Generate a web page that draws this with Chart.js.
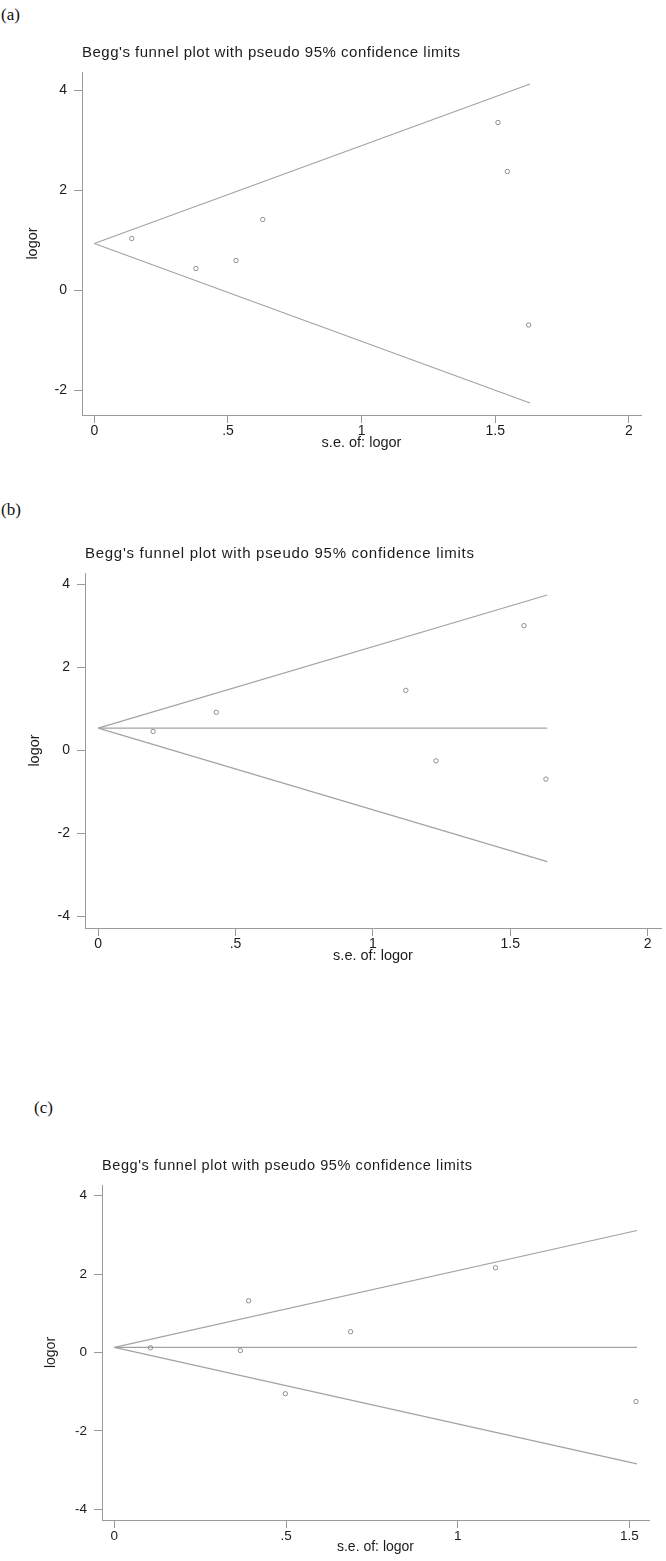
<!DOCTYPE html>
<html>
<head>
<meta charset="utf-8">
<script src="https://cdn.jsdelivr.net/npm/chart.js@4.4.0/dist/chart.umd.min.js"></script>
<style>
  body { margin: 0; background: #fff; width: 666px; height: 1561px; position: relative; overflow: hidden; }
  .tag { position: absolute; font-family: "Liberation Serif", "Times New Roman", serif; font-size: 17px; color: #111; line-height: 20px; }
  canvas { position: absolute; left: 0; }
</style>
</head>
<body>
<div class="tag" style="left:1px;top:5px">(a)</div>
<div class="tag" style="left:1px;top:500px">(b)</div>
<div class="tag" style="left:34px;top:1098px">(c)</div>
<canvas id="chartA" style="top:36px"></canvas>
<canvas id="chartB" style="top:535px"></canvas>
<canvas id="chartC" style="top:1150px"></canvas>
<script>
// panel (a)
var seA = [0.14, 0.38, 0.53, 0.63, 1.51, 1.545, 1.625];
var logorA = [1.03, 0.43, 0.59, 1.41, 3.35, 2.37, -0.70];
var limitSeA = [0, 1.63];
var upperA = [0.93, 4.12];
var lowerA = [0.93, -2.26];
var xTicksA = [0, 0.5, 1, 1.5, 2];
var yTicksA = [-2, 0, 2, 4];

// panel (b)
var seB = [0.20, 0.43, 1.12, 1.23, 1.55, 1.63];
var logorB = [0.46, 0.92, 1.45, -0.25, 3.01, -0.69];
var limitSeB = [0, 1.635];
var upperB = [0.54, 3.75];
var lowerB = [0.54, -2.68];
var midB = [0.54, 0.54];
var xTicksB = [0, 0.5, 1, 1.5, 2];
var yTicksB = [-4, -2, 0, 2, 4];

// panel (c)
var seC = [0.105, 0.367, 0.391, 0.498, 0.688, 1.110, 1.519];
var logorC = [0.12, 0.05, 1.32, -1.05, 0.53, 2.16, -1.25];
var limitSeC = [0, 1.522];
var upperC = [0.13, 3.11];
var lowerC = [0.13, -2.84];
var midC = [0.13, 0.13];
var xTicksC = [0, 0.5, 1, 1.5];
var yTicksC = [-4, -2, 0, 2, 4];

var TITLE = "Begg's funnel plot with pseudo 95% confidence limits";
var FONT = '"Liberation Sans", Arial, sans-serif';
var AXIS = '#9a9a9a';
var INK = '#1c1c1c';

function fmt(v) {
  // stata style: .5 instead of 0.5
  return String(v).replace(/^(-?)0\./, '$1.');
}

function limitLine(xs, ys) {
  return {
    data: xs.map(function(x, i) { return {x: x, y: ys[i]}; }),
    showLine: true,
    borderColor: '#a3a3a3',
    borderWidth: 1.2,
    pointRadius: 0
  };
}

var titlePlugin = {
  id: 'funnelTitle',
  afterDraw: function(chart, args, opts) {
    var ctx = chart.ctx, area = chart.chartArea;
    ctx.save();
    ctx.font = opts.size + 'px ' + FONT;
    ctx.fillStyle = INK;
    ctx.textBaseline = 'middle';
    var w = ctx.measureText(TITLE).width;
    ctx.letterSpacing = ((opts.width - w) / (TITLE.length - 1)) + 'px';
    ctx.fillText(TITLE, area.left, area.top - opts.gap);
    ctx.restore();
  }
};

function funnel(id, p) {
  var canvas = document.getElementById(id);
  canvas.width = 666;
  canvas.height = p.h;

  var datasets = [{
    data: p.se.map(function(x, i) { return {x: x, y: p.logor[i]}; }),
    pointRadius: 2.2,
    pointBorderWidth: 1,
    pointBorderColor: '#8e8e8e',
    pointBackgroundColor: 'rgba(0,0,0,0)'
  }, limitLine(p.limitSe, p.upper), limitLine(p.limitSe, p.lower)];
  if (p.mid) {
    datasets.push(limitLine(p.limitSe, p.mid));
  }

  var gridOpts = {drawOnChartArea: false, drawTicks: true, tickLength: 8, color: AXIS, lineWidth: 1};

  return new Chart(canvas, {
    type: 'scatter',
    data: {datasets: datasets},
    options: {
      responsive: false,
      animation: false,
      layout: {padding: {top: p.top, right: 666 - p.right, left: 0, bottom: 0}},
      plugins: {
        legend: {display: false},
        tooltip: {enabled: false},
        funnelTitle: {size: p.titleSize, width: p.titleWidth, gap: 19}
      },
      scales: {
        x: {
          type: 'linear',
          min: p.xMin,
          max: p.xMax,
          afterBuildTicks: function(s) { s.ticks = p.xTicks.map(function(v) { return {value: v}; }); },
          afterFit: function(s) { s.height = p.h - p.bottom; },
          grid: gridOpts,
          border: {display: true, color: AXIS, width: 1},
          ticks: {color: INK, font: {family: FONT, size: p.tickSize}, padding: 0, maxRotation: 0, autoSkip: false,
                  callback: function(v) { return fmt(v); }},
          title: {display: true, text: 's.e. of: logor', color: INK, font: {family: FONT, size: p.tickSize + 0.5},
                  padding: {top: 0, bottom: 0}}
        },
        y: {
          type: 'linear',
          min: p.yMin,
          max: p.yMax,
          afterBuildTicks: function(s) { s.ticks = p.yTicks.map(function(v) { return {value: v}; }); },
          afterFit: function(s) { s.width = p.left; },
          grid: gridOpts,
          border: {display: true, color: AXIS, width: 1},
          ticks: {color: INK, font: {family: FONT, size: p.tickSize}, padding: 7, autoSkip: false,
                  callback: function(v) { return fmt(v); }},
          title: {display: true, text: 'logor', color: INK, font: {family: FONT, size: p.tickSize + 0.5},
                  padding: {top: p.yTitlePad, bottom: 0}}
        }
      }
    },
    plugins: [titlePlugin]
  });
}

funnel('chartA', {
  se: seA, logor: logorA, limitSe: limitSeA, upper: upperA, lower: lowerA,
  xTicks: xTicksA, yTicks: yTicksA,
  h: 416, top: 36, bottom: 379, left: 82, right: 641,
  xMin: -0.046, xMax: 2.045, yMin: -2.5, yMax: 4.36,
  titleSize: 15, titleWidth: 378, tickSize: 14, yTitlePad: 24
});

funnel('chartB', {
  se: seB, logor: logorB, limitSe: limitSeB, upper: upperB, lower: lowerB, mid: midB,
  xTicks: xTicksB, yTicks: yTicksB,
  h: 430, top: 38, bottom: 393, left: 85, right: 662,
  xMin: -0.048, xMax: 2.049, yMin: -4.28, yMax: 4.28,
  titleSize: 15, titleWidth: 389, tickSize: 14, yTitlePad: 26
});

funnel('chartC', {
  se: seC, logor: logorC, limitSe: limitSeC, upper: upperC, lower: lowerC, mid: midC,
  xTicks: xTicksC, yTicks: yTicksC,
  h: 406, top: 35, bottom: 370, left: 102, right: 649,
  xMin: -0.036, xMax: 1.557, yMin: -4.27, yMax: 4.27,
  titleSize: 14.5, titleWidth: 370, tickSize: 13.5, yTitlePad: 43
});
</script>
</body>
</html>
